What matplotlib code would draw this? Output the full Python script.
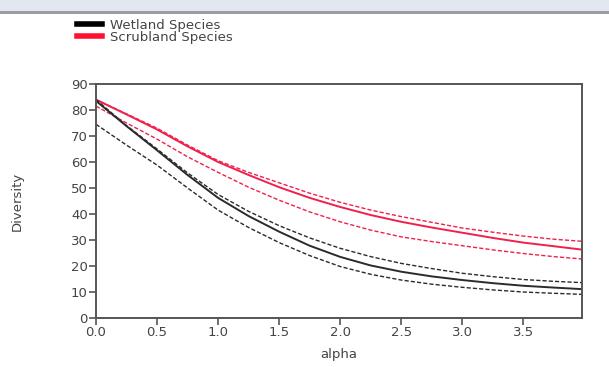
import matplotlib
matplotlib.use("Agg")
import matplotlib.pyplot as plt
from matplotlib.patches import Rectangle
from matplotlib.lines import Line2D

alpha = [0, 0.25, 0.5, 0.75, 1.0, 1.25, 1.5, 1.75, 2.0, 2.25, 2.5, 2.75, 3.0, 3.25, 3.5, 3.75, 3.98]

scrub_upper = [84, 78.5, 73, 66.5, 60.5, 56, 52, 48, 44.5, 41.5, 39, 36.8, 34.6, 33, 31.5, 30.3, 29.5]
scrub_mean = [84, 78.3, 72.5, 66, 60, 55, 50.3, 46.2, 42.7, 39.6, 37, 34.8, 32.8, 30.8, 29, 27.6, 26.3]
scrub_lower = [81.5, 75, 68.8, 62, 56, 50.3, 45.3, 40.8, 37, 33.8, 31.2, 29.4, 27.8, 26.2, 24.8, 23.6, 22.7]

wet_upper = [84, 74, 65, 55.8, 47.5, 41, 35.5, 30.8, 26.8, 23.6, 21, 19, 17.2, 15.9, 14.8, 14.1, 13.6]
wet_mean = [83.5, 73.8, 64.5, 55, 46.2, 39.2, 33.2, 27.8, 23.5, 20.2, 17.8, 16, 14.6, 13.4, 12.4, 11.7, 11.1]
wet_lower = [74.5, 66.5, 58.8, 50, 41.5, 34.8, 29, 24, 19.8, 16.8, 14.6, 13, 11.8, 10.8, 10, 9.5, 9.1]

legend_labels = ["Wetland Species", "Scrubland Species"]
xticks = [0.0, 0.5, 1.0, 1.5, 2.0, 2.5, 3.0, 3.5]
yticks = [0, 10, 20, 30, 40, 50, 60, 70, 80, 90]

BLACK = "#2b2b2b"
RED = "#f0204c"
TXT = "#444444"

fig = plt.figure(figsize=(6.09, 3.67), dpi=100)
fig.patch.set_facecolor("white")

# top band
fig.patches.append(Rectangle((0, 1 - 11 / 367), 1, 11 / 367, transform=fig.transFigure,
                             facecolor="#e3e8f0", edgecolor="none", zorder=0))
fig.patches.append(Rectangle((0, 1 - 14 / 367), 1, 3 / 367, transform=fig.transFigure,
                             facecolor="#9a9ea4", edgecolor="none", zorder=0))

ax = fig.add_axes([96 / 609, 1 - 318 / 367, (582 - 96) / 609, (318 - 84) / 367])

dash = (0, (3, 1.5))
ax.plot(alpha, scrub_upper, color=RED, lw=1.0, ls=dash)
ax.plot(alpha, scrub_mean, color=RED, lw=1.4)
ax.plot(alpha, scrub_lower, color=RED, lw=1.0, ls=dash)
ax.plot(alpha, wet_upper, color=BLACK, lw=1.0, ls=dash)
ax.plot(alpha, wet_mean, color=BLACK, lw=1.4)
ax.plot(alpha, wet_lower, color=BLACK, lw=1.0, ls=dash)

ax.set_xlim(0, 3.98)
ax.set_ylim(0, 90)
ax.set_xticks(xticks)
ax.set_xticklabels([f"{t:.1f}" for t in xticks])
ax.set_yticks(yticks)
for s in ax.spines.values():
    s.set_color("#555555")
    s.set_linewidth(1.4)
ax.tick_params(direction="out", length=5, width=1.2, color="#555555",
               labelsize=9.5, labelcolor=TXT, pad=1)
ax.set_xlabel("alpha", fontsize=9.5, color=TXT, labelpad=6)
ax.set_ylabel("Diversity", fontsize=9.5, color=TXT,
              family="Liberation Sans Narrow")
ax.yaxis.set_label_coords(-0.148, 0.5)

handles = [Line2D([], [], color="black", lw=4), Line2D([], [], color="#ff1030", lw=4)]
fig.legend(handles, legend_labels, loc="upper left", bbox_to_anchor=(74 / 609, 1 - 16 / 367),
           frameon=False, fontsize=9.5, handlelength=1.9, handletextpad=0.6,
           labelspacing=-0.05, borderaxespad=0, borderpad=0.2, labelcolor=TXT)

fig.savefig("out.png", dpi=100, facecolor="white")
